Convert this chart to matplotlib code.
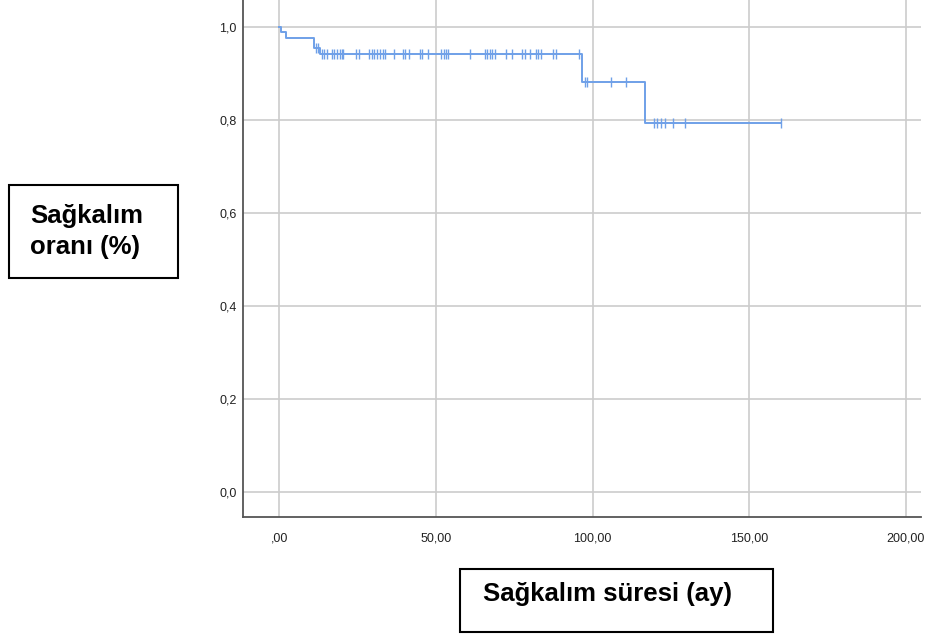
import numpy as np
import matplotlib
matplotlib.use("Agg")
import matplotlib.pyplot as plt
from matplotlib.patches import Rectangle

# ---- data ----
event_times = [0.0, 0.5, 2.3, 11.2, 12.9, 96.5, 116.8]
event_surv = [1.0, 0.989, 0.977, 0.954, 0.941, 0.882, 0.794]
censor_times = [11.8, 12.4,
                13.5, 14.3, 15.1, 16.7, 17.6, 18.3, 19.4, 19.9, 20.4,
                24.5, 25.6, 28.8, 29.5, 30.4, 31.1, 32.0, 33.0, 33.8, 36.6,
                39.4, 40.2, 41.4, 44.8, 45.6, 47.5, 51.7, 52.5, 53.1, 53.8,
                60.8, 65.6, 66.3, 67.2, 68.0, 68.8, 72.3, 74.4, 77.6, 78.4,
                80.0, 82.1, 82.6, 83.4, 87.4, 88.3, 95.6,
                97.6, 98.3, 105.8, 110.7,
                119.6, 120.7, 121.8, 123.2, 125.8, 129.6, 160.0]
x_ticks = [0, 50, 100, 150, 200]
x_labels = [",00", "50,00", "100,00", "150,00", "200,00"]
y_ticks = [0.0, 0.2, 0.4, 0.6, 0.8, 1.0]
y_labels = ["0,0", "0,2", "0,4", "0,6", "0,8", "1,0"]
y_title = ["Sağkalım", "oranı (%)"]
x_title = "Sağkalım süresi (ay)"

W, H = 929, 637
fig = plt.figure(figsize=(W / 100, H / 100), dpi=100)
ax = fig.add_axes([243.5 / W, 1 - 517 / H, (921 - 243.5) / W, 517 / H])

blue = "#6fa0e8"
last_t = max(censor_times)
st = np.array(event_times + [last_t])
ss = np.array(event_surv + [event_surv[-1]])
ax.step(st, ss, where="post", color=blue, lw=1.4, zorder=3)
ct = np.array(censor_times)
idx = np.searchsorted(np.array(event_times), ct, side="right") - 1
cs = np.array(event_surv)[idx]
ax.plot(ct, cs, ls="none", marker="|", ms=7, mew=1.0, color=blue, zorder=4)

ax.set_xlim(-11.4, 204.8)
ax.set_ylim(-0.054, 1.058)
ax.set_xticks(x_ticks)
ax.set_xticklabels(x_labels)
ax.set_yticks(y_ticks)
ax.set_yticklabels(y_labels)
ax.grid(True, color="#cccccc", lw=1.2, zorder=0)
ax.set_axisbelow(True)
for s in ["top", "right"]:
    ax.spines[s].set_visible(False)
for s in ["left", "bottom"]:
    ax.spines[s].set_color("#555555")
    ax.spines[s].set_linewidth(1.3)
ax.tick_params(axis="both", length=0, labelsize=9, colors="#222222")
ax.tick_params(axis="x", pad=11)
ax.tick_params(axis="y", pad=5)
for lab in ax.get_xticklabels() + ax.get_yticklabels():
    lab.set_fontfamily("Liberation Sans")

# label boxes
def fig_box(x0, y0, x1, y1):
    r = Rectangle((x0 / W, 1 - y1 / H), (x1 - x0) / W, (y1 - y0) / H,
                  transform=fig.transFigure, fill=False, ec="black", lw=1.5)
    fig.add_artist(r)

fig_box(9, 185, 178, 278)
fig.text(30 / W, 1 - 223 / H, y_title[0], ha="left", va="baseline",
         fontsize=18.5, fontweight="bold", family="Liberation Sans")
fig.text(30 / W, 1 - 254 / H, y_title[1], ha="left", va="baseline",
         fontsize=18.5, fontweight="bold", family="Liberation Sans")

fig_box(460, 569, 773, 632)
fig.text(483 / W, 1 - 601 / H, x_title, ha="left", va="baseline",
         fontsize=18.5, fontweight="bold", family="Liberation Sans")

fig.savefig("out.png", dpi=100)
